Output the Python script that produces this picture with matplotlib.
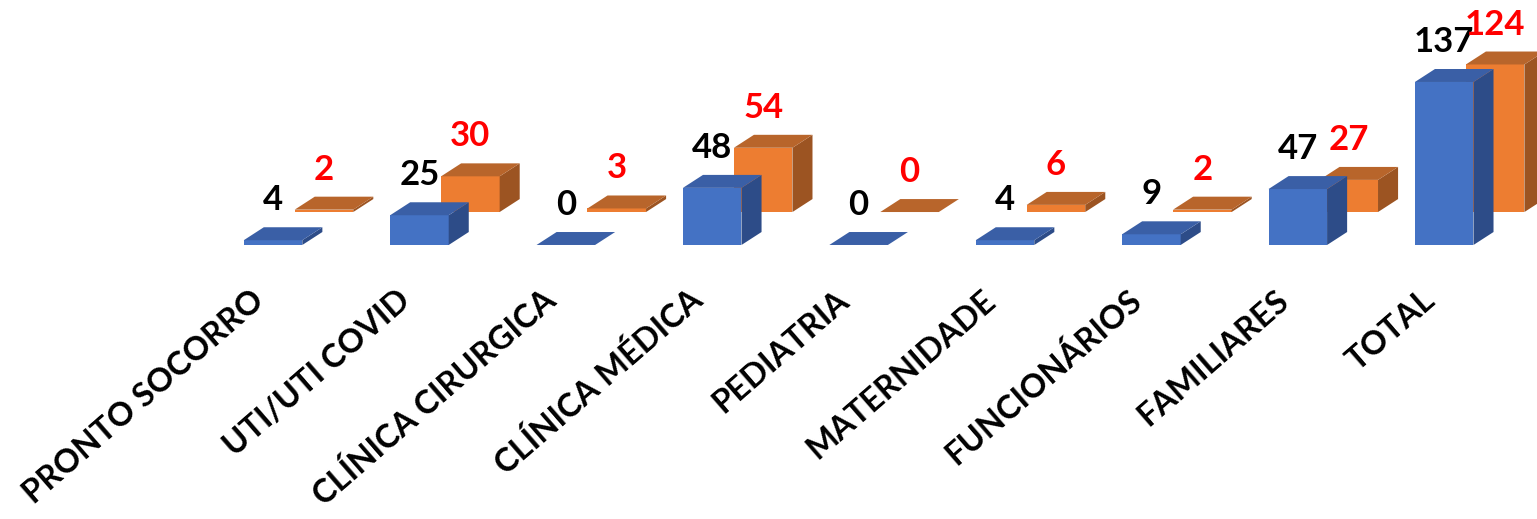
import matplotlib.pyplot as plt
from matplotlib.patches import Polygon

plt.rcParams['font.family'] = ['Lato', 'DejaVu Sans']

categorias = ['PRONTO SOCORRO', 'UTI/UTI COVID', 'CLÍNICA CIRURGICA', 'CLÍNICA MÉDICA',
              'PEDIATRIA', 'MATERNIDADE', 'FUNCIONÁRIOS', 'FAMILIARES', 'TOTAL']
serie_azul = [4, 25, 0, 48, 0, 4, 9, 47, 137]
serie_laranja = [2, 30, 3, 54, 0, 6, 2, 27, 124]

# cores: frente, topo, lateral
cores_azul = ('#4472C4', '#3A5FA6', '#2D4C88')
cores_laranja = ('#ED7D31', '#B8652B', '#9C5422')

largura = 0.40           # largura da face frontal (unidades de categoria)
prof_x, prof_y = 0.137, 10.9     # profundidade de cada barra
fila_x, fila_y = 0.348, 27.7     # deslocamento da fila de trás (laranja)


def barra_3d(ax, xc, base, altura, cores):
    frente, topo, lado = cores
    x0, x1 = xc - largura / 2, xc + largura / 2
    y0, y1 = base, base + altura
    ax.add_patch(Polygon([(x0, y0), (x1, y0), (x1, y1), (x0, y1)],
                         closed=True, facecolor=frente, edgecolor='none'))
    ax.add_patch(Polygon([(x1, y0), (x1 + prof_x, y0 + prof_y),
                          (x1 + prof_x, y1 + prof_y), (x1, y1)],
                         closed=True, facecolor=lado, edgecolor='none'))
    ax.add_patch(Polygon([(x0, y1), (x1, y1), (x1 + prof_x, y1 + prof_y),
                          (x0 + prof_x, y1 + prof_y)],
                         closed=True, facecolor=topo, edgecolor='none'))


fig = plt.figure(figsize=(15.37, 5.19), dpi=100)
ax = fig.add_axes([0, 0, 1, 1])
ax.set_xlim(-1.865, 8.634)
ax.set_ylim(-230.3, 205.9)
ax.axis('off')

# fila de trás primeiro
for i, v in enumerate(serie_laranja):
    barra_3d(ax, i + fila_x, fila_y, v, cores_laranja)
for i, v in enumerate(serie_azul):
    barra_3d(ax, i, 0, v, cores_azul)

for i, v in enumerate(serie_azul):
    ax.text(i, v + 33.6, str(v), ha='center', va='center',
            fontsize=25, fontweight='bold', color='black')
for i, v in enumerate(serie_laranja):
    ax.text(i + fila_x, fila_y + v + 33.6, str(v), ha='center', va='center',
            fontsize=25, fontweight='bold', color='#FF0000')

for i, nome in enumerate(categorias):
    ax.text(i - 0.05, -49, nome, rotation=41, rotation_mode='anchor',
            ha='right', va='baseline', fontsize=23.5, fontweight='bold')

fig.savefig('out.png', dpi=100)
